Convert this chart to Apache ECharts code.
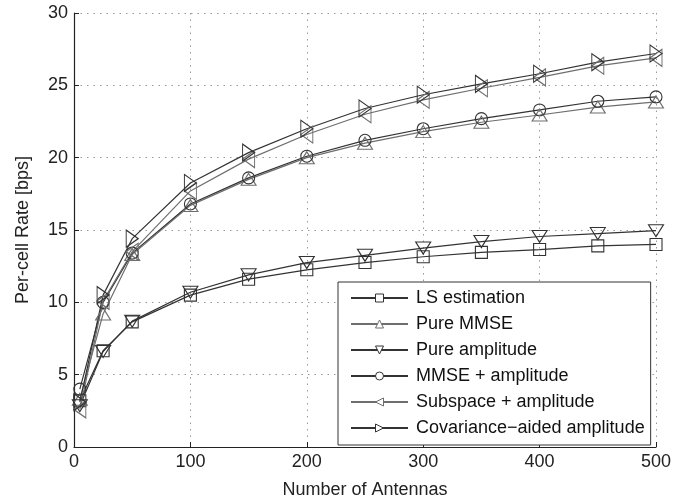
<!DOCTYPE html>
<html>
<head>
<meta charset="utf-8">
<script src="https://cdn.jsdelivr.net/npm/echarts@6/dist/echarts.min.js"></script>
<style>html,body{margin:0;padding:0;background:#fff}#c{width:691px;height:504px}</style>
</head>
<body>
<div id="c"></div>
<script>
const antennas = [5, 25, 50, 100, 150, 200, 250, 300, 350, 400, 450, 500];
const lsEstimation = [3.2, 6.65, 8.65, 10.5, 11.6, 12.25, 12.75, 13.15, 13.45, 13.65, 13.9, 14.0];
const pureMMSE = [3.3, 9.2, 13.3, 16.7, 18.5, 20.0, 21.0, 21.8, 22.45, 22.95, 23.5, 23.85];
const pureAmplitude = [2.85, 6.6, 8.7, 10.7, 11.9, 12.75, 13.25, 13.75, 14.2, 14.55, 14.75, 14.95];
const mmseAmplitude = [4.0, 10.0, 13.4, 16.8, 18.6, 20.1, 21.2, 22.0, 22.7, 23.3, 23.9, 24.2];
const subspaceAmplitude = [2.6, 10.1, 13.5, 17.7, 19.9, 21.6, 23.0, 24.0, 24.8, 25.55, 26.35, 26.9];
const covarianceAmplitude = [3.1, 10.5, 14.4, 18.25, 20.35, 22.0, 23.4, 24.35, 25.1, 25.8, 26.6, 27.2];
const seriesNames = ['LS estimation', 'Pure MMSE', 'Pure amplitude', 'MMSE + amplitude', 'Subspace + amplitude', 'Covariance\u2212aided amplitude'];
const xTicks = [0, 100, 200, 300, 400, 500];
const yTicks = [0, 5, 10, 15, 20, 25, 30];

const dark = '#333333', light = '#6e6e6e';
const SYM = {
  square: 'rect',
  up: 'path://M5,0L10,10L0,10Z',
  down: 'path://M0,0L10,0L5,10Z',
  circle: 'circle',
  left: 'path://M0,5L10,0L10,10Z',
  right: 'path://M10,5L0,0L0,10Z'
};
const defs = [
  {data: lsEstimation, sym: SYM.square, size: 12, color: dark},
  {data: pureMMSE, sym: SYM.up, size: [15, 12], color: light},
  {data: pureAmplitude, sym: SYM.down, size: [15, 12], color: dark},
  {data: mmseAmplitude, sym: SYM.circle, size: 12, color: dark},
  {data: subspaceAmplitude, sym: SYM.left, size: [12, 17], color: light},
  {data: covarianceAmplitude, sym: SYM.right, size: [12, 17], color: dark}
];
const series = defs.map((d, i) => ({
  name: seriesNames[i],
  type: 'line',
  data: antennas.map((x, j) => [x, d.data[j]]),
  symbol: d.sym,
  symbolSize: d.size,
  showAllSymbol: true,
  lineStyle: {color: d.color, width: 1.2},
  itemStyle: {color: 'rgba(255,255,255,0)', borderColor: d.color, borderWidth: 1.1},
  emphasis: {disabled: true},
  animation: false
}));
const chart = echarts.init(document.getElementById('c'), null, {renderer: 'canvas'});
const font = 'Liberation Sans, Arial, sans-serif';
chart.setOption({
  animation: false,
  grid: {left: 74, right: 35, top: 13, bottom: 57},
  xAxis: {
    type: 'value', min: xTicks[0], max: xTicks[xTicks.length - 1], interval: 100,
    name: 'Number of Antennas', nameLocation: 'middle', nameGap: 34,
    nameTextStyle: {fontFamily: font, fontSize: 18, color: '#222'},
    axisLine: {lineStyle: {color: '#222', width: 1.2}},
    axisTick: {inside: true, length: 5, lineStyle: {color: '#222'}},
    axisLabel: {fontFamily: font, fontSize: 18, color: '#222', margin: 6},
    splitLine: {show: true, lineStyle: {color: '#999', type: [1.5, 5], width: 1}}
  },
  yAxis: {
    type: 'value', min: yTicks[0], max: yTicks[yTicks.length - 1], interval: 5,
    name: 'Per-cell Rate [bps]', nameLocation: 'middle', nameGap: 42,
    nameTextStyle: {fontFamily: font, fontSize: 18, color: '#222'},
    axisLine: {show: true, lineStyle: {color: '#222', width: 1.2}},
    axisTick: {show: true, inside: true, length: 5, lineStyle: {color: '#222'}},
    axisLabel: {fontFamily: font, fontSize: 18, color: '#222', margin: 6},
    splitLine: {show: true, lineStyle: {color: '#999', type: [1.5, 5], width: 1}}
  },
  legend: {
    orient: 'vertical', left: 338, top: 282,
    backgroundColor: '#fff', borderColor: '#333', borderWidth: 1,
    padding: [7, 6, 8, 12], itemGap: 8, itemWidth: 57, itemHeight: 10,
    itemStyle: {color: '#fff', borderWidth: 1},
    textStyle: {fontFamily: font, fontSize: 18, color: '#111', padding: [0, 0, 0, 3]},
    data: seriesNames
  },
  series: series
});
</script>
</body>
</html>
